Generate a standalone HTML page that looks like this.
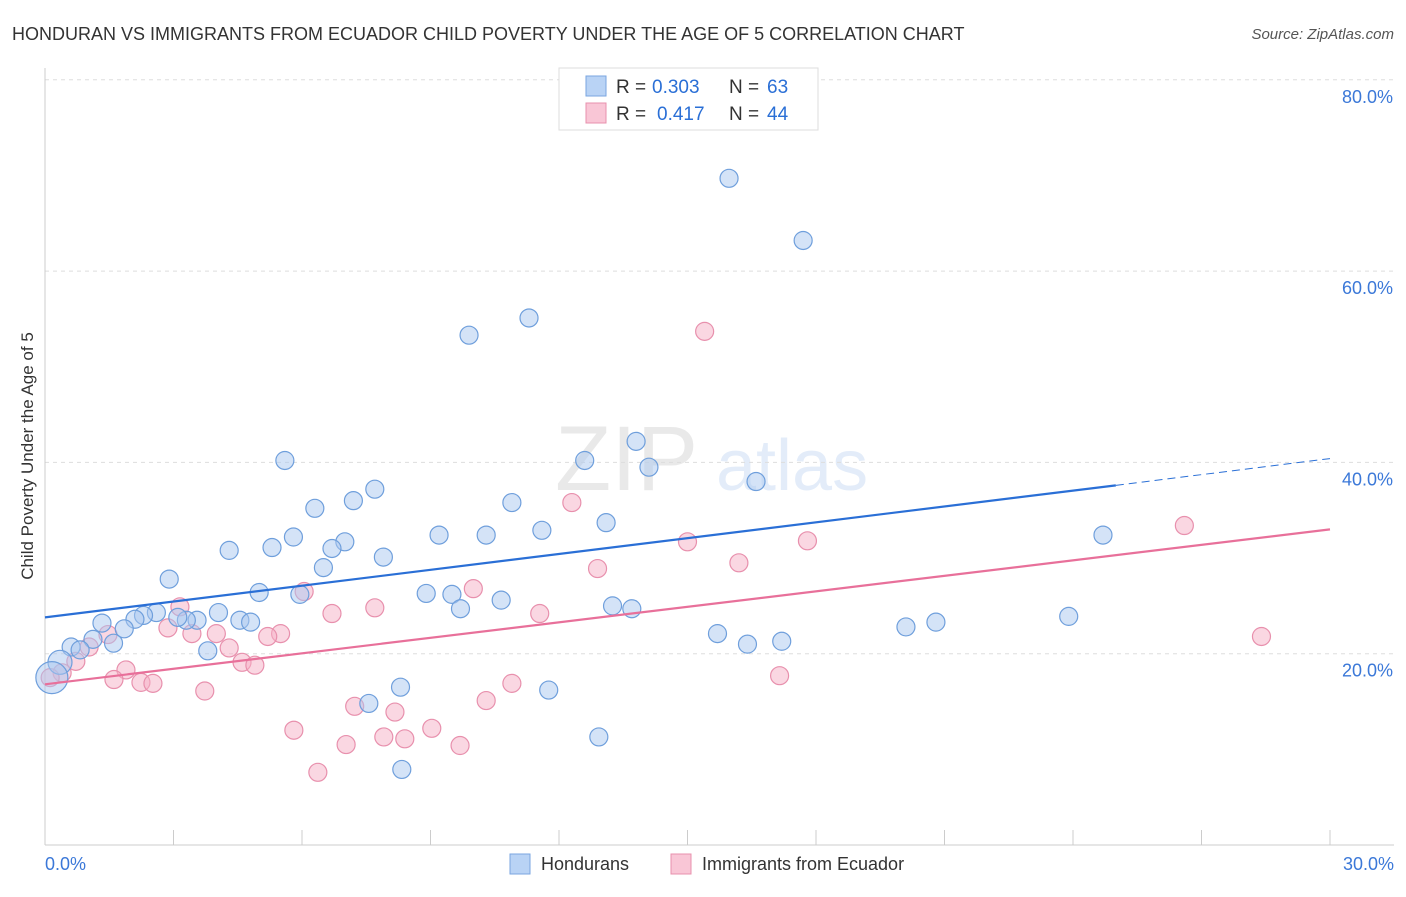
<!DOCTYPE html>
<html><head><meta charset="utf-8"><style>
body{margin:0;background:#fff;font-family:"Liberation Sans",sans-serif;}
svg text{font-family:"Liberation Sans",sans-serif;}
</style></head><body>
<svg id="chart" width="1406" height="892" viewBox="0 0 1406 892" xmlns="http://www.w3.org/2000/svg">
<text x="12" y="40" font-size="18" fill="#333">HONDURAN VS IMMIGRANTS FROM ECUADOR CHILD POVERTY UNDER THE AGE OF 5 CORRELATION CHART</text>
<text x="1394" y="39" font-size="15" fill="#555" text-anchor="end" font-style="italic">Source: ZipAtlas.com</text>
<g opacity="0.18">
<text x="555" y="490" font-size="92" font-family="Liberation Serif" fill="#888">ZIP</text>
<text x="716" y="490" font-size="72" fill="#6a9be0">atlas</text>
</g>
<g id="grid"></g>
<g id="axes"></g>
<g id="marks"></g>
<text transform="translate(33,456) rotate(-90)" font-size="17" fill="#333" text-anchor="middle">Child Poverty Under the Age of 5</text>
<g>
<rect x="559" y="68" width="259" height="62" fill="#fff" stroke="#ddd"/>
<rect x="586" y="76" width="20" height="20" fill="#b9d3f5" stroke="#7aa6e0"/>
<rect x="586" y="103" width="20" height="20" fill="#f9c6d6" stroke="#e890ad"/>
<text x="616" y="93" font-size="19" fill="#333">R =</text>
<text x="652" y="93" font-size="19" fill="#2a6fd6">0.303</text>
<text x="729" y="93" font-size="19" fill="#333">N =</text>
<text x="767" y="93" font-size="19" fill="#2a6fd6">63</text>
<text x="616" y="120" font-size="19" fill="#333">R =</text>
<text x="657" y="120" font-size="19" fill="#2a6fd6">0.417</text>
<text x="729" y="120" font-size="19" fill="#333">N =</text>
<text x="767" y="120" font-size="19" fill="#2a6fd6">44</text>
</g>
<g>
<rect x="510" y="854" width="20" height="20" fill="#b9d3f5" stroke="#7aa6e0"/>
<text x="541" y="870" font-size="18" fill="#333">Hondurans</text>
<rect x="671" y="854" width="20" height="20" fill="#f9c6d6" stroke="#e890ad"/>
<text x="702" y="870" font-size="18" fill="#333">Immigrants from Ecuador</text>
</g>
</svg>
<script>
const xTicks=[0,30];
const yTicks=[20,40,60,80];
const blueX=[15.97,17.7,11.3,9.9,13.8,5.6,12.6,14.1,16.6,7.7,7.2,10.9,6.3,13.1,11.6,9.2,10.3,24.7,5.8,4.3,5.3,7.0,6.7,7.9,6.5,2.9,5.0,5.95,8.9,9.5,10.65,13.25,13.7,9.7,4.05,2.6,2.3,2.1,3.55,3.3,3.1,4.55,4.8,23.9,20.8,20.1,1.33,1.85,15.7,17.2,16.4,1.6,1.12,0.61,0.82,3.8,0.35,0.16,7.56,8.3,11.76,12.93,8.33];
const blueY=[69.7,63.2,55.1,53.3,42.2,40.2,40.2,39.5,38.0,37.2,36.0,35.8,35.2,33.7,32.9,32.4,32.4,32.4,32.2,30.8,31.1,31.7,31.0,30.1,29.0,27.8,26.4,26.2,26.3,26.2,25.6,25.0,24.7,24.7,24.3,24.3,24.0,23.6,23.5,23.5,23.8,23.5,23.3,23.9,23.3,22.8,23.2,22.6,22.1,21.3,21.0,21.1,21.5,20.7,20.4,20.3,19.1,17.5,14.8,16.5,16.2,11.3,7.9];
const blueR=[9,9,9,9,9,9,9,9,9,9,9,9,9,9,9,9,9,9,9,9,9,9,9,9,9,9,9,9,9,9,9,9,9,9,9,9,9,9,9,9,9,9,9,9,9,9,9,9,9,9,9,9,9,9,9,9,12,16,9,9,9,9,9];
const pinkX=[15.4,12.3,26.6,15.0,17.8,16.2,12.9,10.0,6.05,3.15,6.7,7.7,11.55,2.87,3.43,4.0,5.5,5.2,1.47,1.03,4.3,0.72,4.6,4.9,0.4,1.89,1.61,2.24,2.52,17.15,28.4,3.73,10.9,10.3,7.23,8.17,7.91,8.4,9.03,5.81,7.03,9.69,6.37,0.12];
const pinkY=[53.7,35.8,33.4,31.7,31.8,29.5,28.9,26.8,26.5,24.9,24.2,24.8,24.2,22.7,22.1,22.1,22.1,21.8,22.0,20.7,20.6,19.2,19.1,18.8,18.0,18.3,17.3,17.0,16.9,17.7,21.8,16.1,16.9,15.1,14.5,13.9,11.3,11.1,12.2,12.0,10.5,10.4,7.6,17.5];
const blueLine=[[0,23.8],[25,37.6]];
const blueDash=[[25,37.6],[30,40.4]];
const pinkLine=[[0,16.8],[30,33.0]];
const X=v=>45+v/30*1285, Y=v=>845-v/20*191.3;
const NS="http://www.w3.org/2000/svg";
function mk(t,a,p){const e=document.createElementNS(NS,t);for(const k in a)e.setAttribute(k,a[k]);p.appendChild(e);return e;}
const grid=document.getElementById('grid'),axes=document.getElementById('axes'),marks=document.getElementById('marks');
yTicks.forEach(v=>{
 const l=mk('line',{x1:45,x2:1394,y1:Y(v),y2:Y(v),stroke:'#ddd','stroke-dasharray':'4,4'},grid);
 
 
 const t=mk('text',{x:1393,y:Y(v)+23,'font-size':18,fill:'#3b78d8','text-anchor':'end'},axes);
 t.textContent=v.toFixed(1)+'%';
 
 
});
mk('line',{x1:45,x2:45,y1:68,y2:845,stroke:'#ccc'},axes);
mk('line',{x1:45,x2:1394,y1:845,y2:845,stroke:'#ccc'},axes);
for(let i=1;i<=10;i++){const xx=45+i*128.5;const l=mk('line',{x1:xx,x2:xx,y1:830,y2:845,stroke:'#ccc'},axes);}
xTicks.forEach((v,i)=>{const t=mk('text',{x:i?1394:45,y:870,'font-size':18,fill:'#3b78d8','text-anchor':i?'end':'start'},axes);t.textContent=v.toFixed(1)+'%';

});
function dots(xs,ys,rs,fill,stroke,name){xs.forEach((v,i)=>{const c=mk('circle',{cx:X(v),cy:Y(ys[i]),r:rs?rs[i]:9,fill:fill,'fill-opacity':0.5,stroke:stroke,'stroke-width':1.2},marks);

});}
dots(pinkX,pinkY,null,'#f5b0c6','#e890ad','ecuador-point');
dots(blueX,blueY,blueR,'#a9c8f0','#6f9fdc','honduran-point');
function line(p,st,dash,name){const l=mk('line',{x1:X(p[0][0]),y1:Y(p[0][1]),x2:X(p[1][0]),y2:Y(p[1][1]),stroke:st,'stroke-width':dash?1:2.2},marks);if(dash)l.setAttribute('stroke-dasharray','8,5');

}
line(blueLine,'#2a6fd6',false,'honduran-trend-line');
line(blueDash,'#2a6fd6',true,'honduran-trend-extension');
line(pinkLine,'#e8709a',false,'ecuador-trend-line');
</script>
</body></html>
